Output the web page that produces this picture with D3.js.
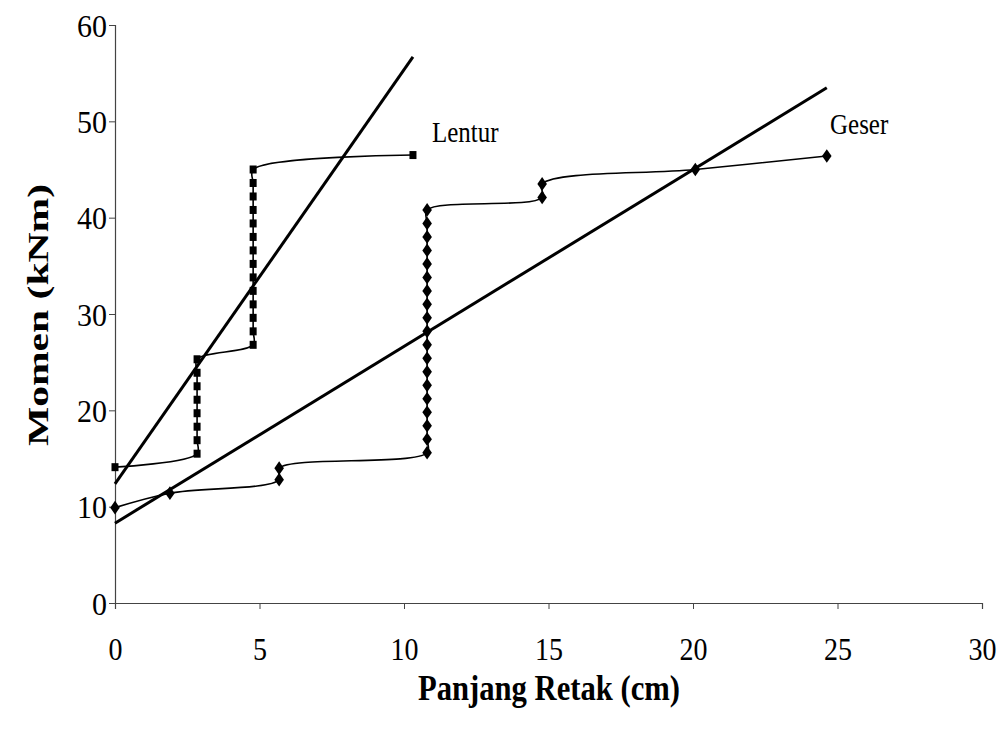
<!DOCTYPE html>
<html>
<head>
<meta charset="utf-8">
<script src="https://cdn.jsdelivr.net/npm/d3@7"></script>
<style>
  body { margin: 0; background: #fff; }
  text { font-family: "Liberation Serif", "Times New Roman", serif; fill: #000; }
</style>
</head>
<body>
<svg width="1007" height="732"></svg>
<script>
// Lentur (squares)
const lenturX = [0,
  2.84, 2.84, 2.84, 2.84, 2.84, 2.84, 2.84, 2.84,
  4.78, 4.78, 4.78, 4.78, 4.78, 4.78, 4.78, 4.78, 4.78, 4.78, 4.78, 4.78, 4.78, 4.78,
  10.31];
const lenturY = [14.1,
  15.5, 16.9, 18.3, 19.7, 21.1, 22.5, 23.9, 25.3,
  26.8, 28.2, 29.6, 31.0, 32.4, 33.8, 35.2, 36.6, 38.0, 39.4, 40.8, 42.2, 43.6, 45.0,
  46.5];

// Geser (diamonds)
const geserX = [0, 1.9, 5.68, 5.68,
  10.8, 10.8, 10.8, 10.8, 10.8, 10.8, 10.8, 10.8, 10.8, 10.8,
  10.8, 10.8, 10.8, 10.8, 10.8, 10.8, 10.8, 10.8, 10.8,
  14.78, 14.78, 20.08, 24.63];
const geserY = [9.9, 11.4, 12.8, 14.0,
  15.6, 17.0, 18.4, 19.8, 21.2, 22.6, 24.0, 25.4, 26.8, 28.2,
  29.6, 31.0, 32.4, 33.8, 35.2, 36.6, 38.0, 39.4, 40.8,
  42.1, 43.5, 45.0, 46.4];

const xTicks = [0, 5, 10, 15, 20, 25, 30];
const yTicks = [0, 10, 20, 30, 40, 50, 60];

let svg = d3.select("svg");
let x = d3.scaleLinear().domain([0, 30]).range([115, 982]);
let y = d3.scaleLinear().domain([0, 60]).range([603, 25]);

// axes
let xAxis = svg.append("g")
    .attr("transform", "translate(0," + y(0) + ")")
    .call(d3.axisBottom(x).tickValues(xTicks).tickSize(6).tickFormat(d3.format("d")));
let yAxis = svg.append("g")
    .attr("transform", "translate(" + x(0) + ",0)")
    .call(d3.axisLeft(y).tickValues(yTicks).tickSize(6).tickFormat(d3.format("d")));
svg.selectAll(".domain").attr("stroke", "#444").attr("stroke-width", 1.2);
svg.selectAll(".tick line").attr("stroke", "#444");
svg.selectAll(".tick text")
    .style("font-family", "Liberation Serif").attr("fill", "#000")
    .attr("x", null).attr("y", null).attr("dy", null);
xAxis.selectAll(".tick text").style("font-size", "28px").attr("transform", "translate(0,57) scale(1,1.15)");
yAxis.selectAll(".tick text").style("font-size", "30px").attr("transform", "translate(-8,11) scale(1,1.05)");

// axis titles
svg.append("text")
    .attr("transform", "translate(549,700) scale(1,1.2)")
    .attr("text-anchor", "middle")
    .attr("textLength", 262).attr("lengthAdjust", "spacingAndGlyphs")
    .style("font-size", "29px").style("font-weight", "bold")
    .text("Panjang Retak (cm)");
svg.append("text")
    .attr("transform", "translate(48,315) rotate(-90)")
    .attr("text-anchor", "middle")
    .attr("textLength", 262).attr("lengthAdjust", "spacingAndGlyphs")
    .style("font-size", "30px").style("font-weight", "bold")
    .text("Momen (kNm)");

// linear trendlines (least squares)
function fit(xs, ys) {
  let mx = d3.mean(xs), my = d3.mean(ys);
  let sxy = d3.sum(xs, (v, i) => (v - mx) * (ys[i] - my));
  let sxx = d3.sum(xs, v => (v - mx) * (v - mx));
  let b = sxy / sxx;
  return { b: b, a: my - b * mx };
}

let line = d3.line().x(d => x(d[0])).y(d => y(d[1])).curve(d3.curveCatmullRom.alpha(0.5));

let lentur = lenturX.map((v, i) => [v, lenturY[i]]);
let geser = geserX.map((v, i) => [v, geserY[i]]);

[[lentur, lenturX, lenturY], [geser, geserX, geserY]].forEach(s => {
  let f = fit(s[1], s[2]);
  let x1 = d3.max(s[1]);
  svg.append("line")
      .attr("x1", x(0)).attr("y1", y(f.a))
      .attr("x2", x(x1)).attr("y2", y(f.a + f.b * x1))
      .attr("stroke", "#000").attr("stroke-width", 3);
});

svg.append("path").datum(lentur)
    .attr("d", line).attr("fill", "none").attr("stroke", "#000").attr("stroke-width", 1.6);
svg.append("path").datum(geser)
    .attr("d", line).attr("fill", "none").attr("stroke", "#000").attr("stroke-width", 1.6);

// markers
svg.append("g").selectAll("rect")
    .data(lentur)
    .join("rect")
    .attr("x", d => x(d[0]) - 3.5).attr("y", d => y(d[1]) - 4)
    .attr("width", 7).attr("height", 8)
    .attr("fill", "#000");

let diamond = d3.symbol().type(d3.symbolDiamond).size(60);
svg.append("g").selectAll("path")
    .data(geser)
    .join("path")
    .attr("transform", d => "translate(" + x(d[0]) + "," + y(d[1]) + ") scale(1.15,0.95)")
    .attr("d", diamond)
    .attr("fill", "#000");

// series labels
svg.append("text").attr("transform", "translate(432,142) scale(1,1.2)").style("font-size", "25px").text("Lentur");
svg.append("text").attr("transform", "translate(830,134) scale(1,1.2)").style("font-size", "25px").text("Geser");
</script>
</body>
</html>
